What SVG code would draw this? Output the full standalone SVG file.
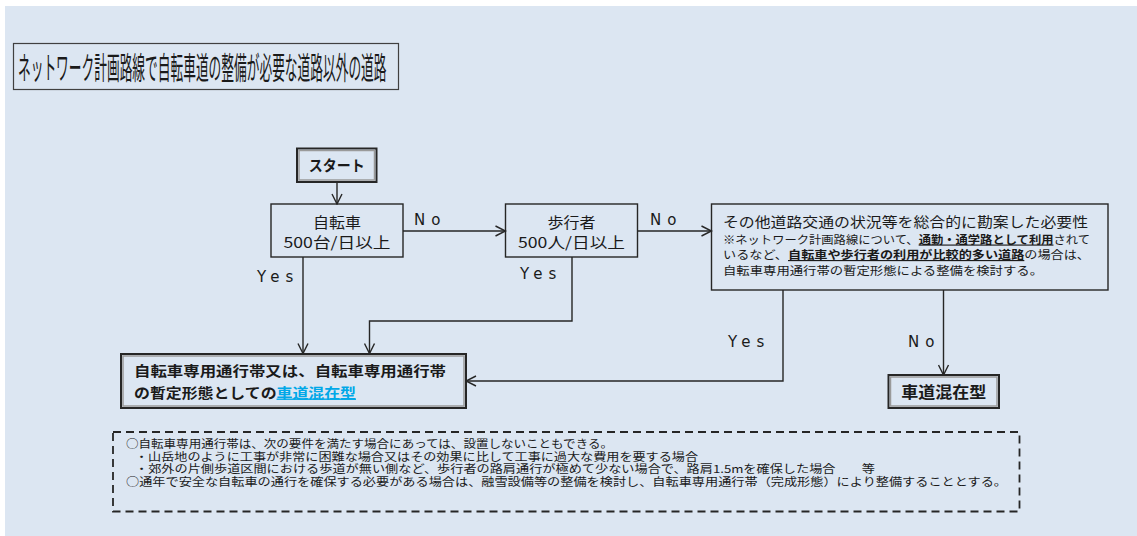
<svg xmlns="http://www.w3.org/2000/svg" width="1137" height="536" viewBox="0 0 1137 536">
<style>
.t{font-family:"Noto Sans CJK JP","Liberation Sans",sans-serif;fill:#1a1a1a}
.b{font-weight:bold}
.box{fill:none;stroke:#262626;stroke-width:1.4}
.dbo{fill:none;stroke:#262626;stroke-width:2}
.dbi{fill:none;stroke:#9a9a9a;stroke-width:1.5}
.ln{fill:none;stroke:#262626;stroke-width:1.4}
.yn{font-family:"DejaVu Sans","Liberation Sans",sans-serif;font-size:15px;fill:#1a1a1a;letter-spacing:6px}
</style>
<defs>
<marker id="ah" viewBox="0 0 12 12" refX="11" refY="6" markerWidth="12" markerHeight="12" markerUnits="userSpaceOnUse" orient="auto">
<path d="M1,1 L11,6 L1,11" fill="none" stroke="#262626" stroke-width="1.4"/>
</marker>
</defs>
<rect x="0" y="0" width="1137" height="536" fill="#ffffff"/>
<rect x="5" y="6" width="1132" height="530" fill="#dce6f2"/>

<g id="title">
<rect x="13.5" y="43.5" width="385" height="46" fill="none" stroke="#404040" stroke-width="1.2"/>
<text class="t" transform="translate(18,78.5) scale(0.41,1)" font-size="31">ネットワーク計画路線で自転車道の整備が必要な道路以外の道路</text>
</g>

<g id="connectors">
<line class="ln" x1="337" y1="182" x2="337" y2="204" marker-end="url(#ah)"/>
<line class="ln" x1="403" y1="231" x2="505.5" y2="231" marker-end="url(#ah)"/>
<line class="ln" x1="637.5" y1="231" x2="711.5" y2="231" marker-end="url(#ah)"/>
<line class="ln" x1="303" y1="257" x2="303" y2="353.5" marker-end="url(#ah)"/>
<polyline class="ln" points="572,257 572,321 369.5,321 369.5,353.5" marker-end="url(#ah)"/>
<polyline class="ln" points="783,290 783,381 466,381" marker-end="url(#ah)"/>
<line class="ln" x1="943.5" y1="290" x2="943.5" y2="375" marker-end="url(#ah)"/>
<text class="yn" x="257" y="282">Yes</text>
<text class="yn" x="520" y="279">Yes</text>
<text class="yn" x="728" y="347">Yes</text>
<text class="yn" x="414" y="225">No</text>
<text class="yn" x="650" y="225">No</text>
<text class="yn" x="908" y="347">No</text>
</g>

<g id="start">
<rect class="dbo" x="297" y="148.5" width="79.5" height="33.5"/>
<rect class="dbi" x="299" y="150.5" width="75.5" height="29.5"/>
<text class="t b" x="336.7" y="171" font-size="15" text-anchor="middle" textLength="56" lengthAdjust="spacingAndGlyphs">スタート</text>
</g>

<g id="bicycle">
<rect class="box" x="271" y="204" width="132" height="53" fill="none"/>
<text class="t" x="337" y="227.5" font-size="15" text-anchor="middle" textLength="48" lengthAdjust="spacingAndGlyphs">自転車</text>
<text class="t" x="337" y="248" font-size="15" text-anchor="middle" textLength="107" lengthAdjust="spacingAndGlyphs">500台/日以上</text>
</g>

<g id="pedestrian">
<rect class="box" x="505.5" y="204" width="132" height="53"/>
<text class="t" x="571.5" y="227.5" font-size="15" text-anchor="middle" textLength="48" lengthAdjust="spacingAndGlyphs">歩行者</text>
<text class="t" x="571.5" y="248" font-size="15" text-anchor="middle" textLength="107" lengthAdjust="spacingAndGlyphs">500人/日以上</text>
</g>

<g id="other">
<rect class="box" x="711.5" y="204" width="396.5" height="86"/>
<text class="t" x="723" y="227" font-size="14" textLength="365" lengthAdjust="spacingAndGlyphs">その他道路交通の状況等を総合的に勘案した必要性</text>
<text class="t" x="723" y="243.5" font-size="11.5" textLength="367" lengthAdjust="spacingAndGlyphs">※ネットワーク計画路線について、<tspan class="b" text-decoration="underline">通勤・通学路として利用</tspan>されて</text>
<text class="t" x="723" y="259" font-size="11.5" textLength="367" lengthAdjust="spacingAndGlyphs">いるなど、<tspan class="b" text-decoration="underline">自転車や歩行者の利用が比較的多い道路</tspan>の場合は、</text>
<text class="t" x="723" y="274.5" font-size="11.5" textLength="320" lengthAdjust="spacingAndGlyphs">自転車専用通行帯の暫定形態による整備を検討する。</text>
</g>

<g id="result">
<rect class="dbo" x="121" y="354" width="345" height="54"/>
<rect class="dbi" x="123" y="356" width="341" height="50"/>
<text class="t b" x="134" y="376" font-size="14" textLength="312" lengthAdjust="spacingAndGlyphs">自転車専用通行帯又は、自転車専用通行帯</text>
<text class="t b" x="134" y="397.5" font-size="14" textLength="222" lengthAdjust="spacingAndGlyphs">の暫定形態としての<tspan fill="#00a8e8" text-decoration="underline">車道混在型</tspan></text>
</g>

<g id="mixed">
<rect class="dbo" x="888.5" y="375" width="110.5" height="33"/>
<rect class="dbi" x="890.5" y="377" width="106.5" height="29"/>
<text class="t b" x="943.7" y="397.5" font-size="16" text-anchor="middle" textLength="85" lengthAdjust="spacingAndGlyphs">車道混在型</text>
</g>

<g id="note">
<rect x="113" y="432" width="906.5" height="79.5" fill="none" stroke="#262626" stroke-width="1.8" stroke-dasharray="8 5"/>
<text class="t" x="126" y="448" font-size="11" textLength="487" lengthAdjust="spacingAndGlyphs">○自転車専用通行帯は、次の要件を満たす場合にあっては、設置しないこともできる。</text>
<text class="t" x="135" y="460.5" font-size="11" textLength="563" lengthAdjust="spacingAndGlyphs">・山岳地のように工事が非常に困難な場合又はその効果に比して工事に過大な費用を要する場合</text>
<text class="t" x="135" y="473" font-size="11" textLength="740" lengthAdjust="spacingAndGlyphs">・郊外の片側歩道区間における歩道が無い側など、歩行者の路肩通行が極めて少ない場合で、路肩1.5mを確保した場合　　等</text>
<text class="t" x="126" y="485.5" font-size="11" textLength="881" lengthAdjust="spacingAndGlyphs">○通年で安全な自転車の通行を確保する必要がある場合は、融雪設備等の整備を検討し、自転車専用通行帯（完成形態）により整備することとする。</text>
</g>
</svg>
